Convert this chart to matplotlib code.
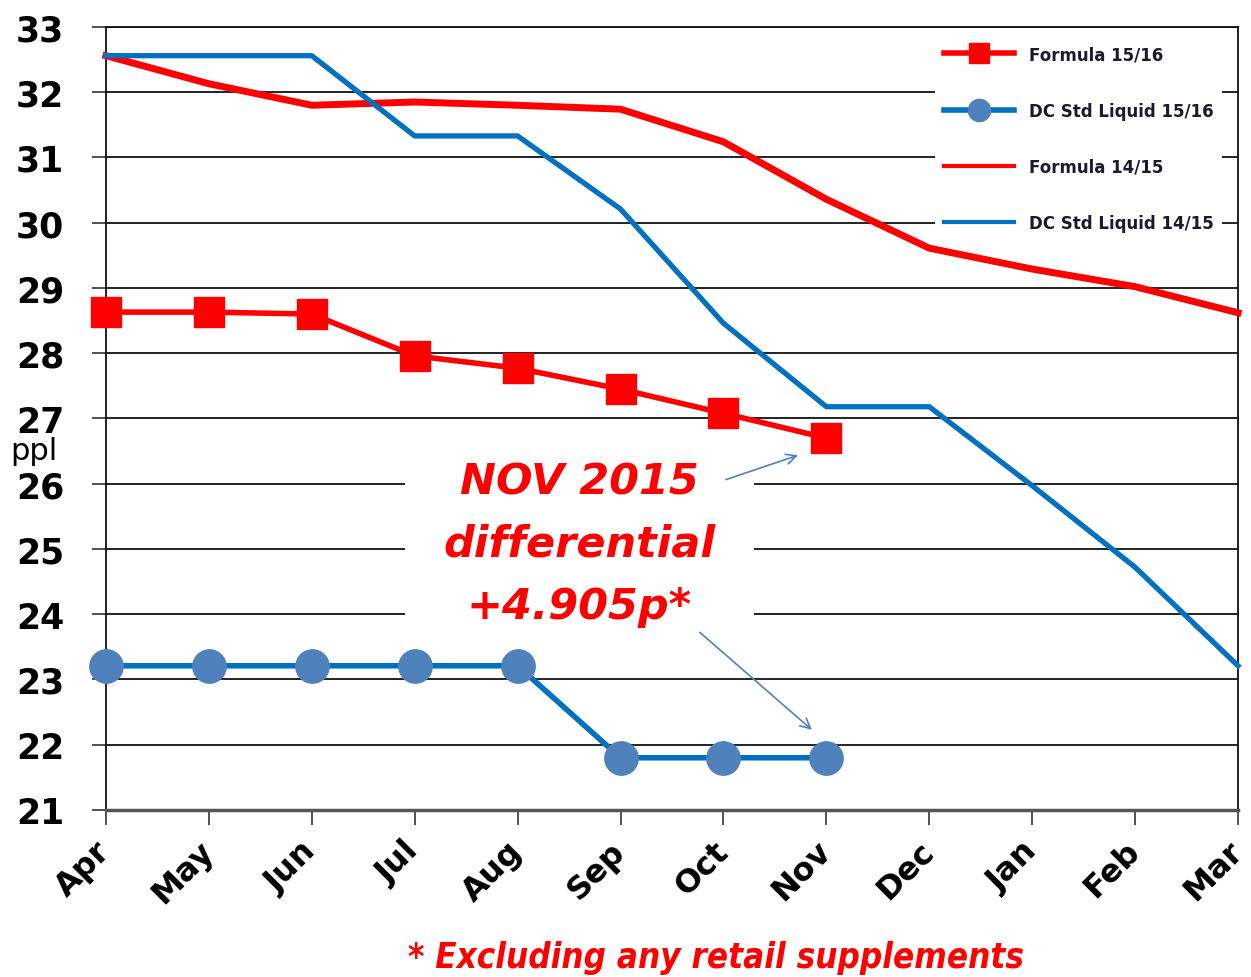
import matplotlib.pyplot as plt
from matplotlib.lines import Line2D

# Данные (ppl по месяцам)
months = ['Apr', 'May', 'Jun', 'Jul', 'Aug', 'Sep', 'Oct', 'Nov', 'Dec', 'Jan', 'Feb', 'Mar']
formula_1516 = [28.63, 28.63, 28.60, 27.96, 27.77, 27.45, 27.08, 26.70]
dc_1516 = [23.21, 23.21, 23.21, 23.21, 23.21, 21.80, 21.80, 21.80]
formula_1415 = [32.56, 32.13, 31.80, 31.85, 31.80, 31.74, 31.24, 30.36, 29.61, 29.29, 29.02, 28.62]
dc_1415 = [32.56, 32.56, 32.56, 31.33, 31.33, 30.21, 28.46, 27.18, 27.18, 25.97, 24.72, 23.21]
y_ticks = list(range(21, 34))

RED = '#FF0000'
BLUE = '#0070C0'
DOT = '#4F81BD'

fig = plt.figure(figsize=(12.51, 9.78), dpi=100)
ax = fig.add_axes([0.0847, 0.1708, 0.9049, 0.8006])

x_all = list(range(len(months)))
ax.plot(x_all, formula_1415, color=RED, lw=5, zorder=3, clip_on=False)
ax.plot(x_all, dc_1415, color=BLUE, lw=3.8, zorder=3, clip_on=False)
ax.plot(range(len(formula_1516)), formula_1516, color=RED, lw=4, marker='s', ms=22,
        mec=RED, mfc=RED, zorder=4, clip_on=False)
ax.plot(range(len(dc_1516)), dc_1516, color=BLUE, lw=4, marker='o', ms=24,
        mec=DOT, mfc=DOT, zorder=4, clip_on=False)

ax.set_xlim(0, 11)
ax.set_ylim(21, 33)
ax.set_yticks(y_ticks)
ax.set_yticklabels([str(v) for v in y_ticks], fontsize=25, fontweight='bold')
ax.set_xticks(x_all)
ax.set_xticklabels(months, fontsize=23, fontweight='bold', rotation=45,
                   ha='right', va='center', rotation_mode='anchor')
ax.tick_params(axis='x', length=11, width=1.2, pad=15, color='#333333')
ax.tick_params(axis='y', length=10, width=1.2, pad=20, color='#333333')
ax.grid(axis='y', color='#111111', lw=1.3)
for s in ax.spines.values():
    s.set_color('#111111')
    s.set_linewidth(1.3)
ax.spines['bottom'].set_color('#555555')
ax.spines['bottom'].set_linewidth(2.5)

fig.text(0.008, 0.538, 'ppl', fontsize=22, ha='left', va='center')

# Аннотация: белая подложка закрывает только сетку, не линии
ax.text(4.6, 25.08, 'NOV 2015\ndifferential\n+4.905p*', color=RED, fontsize=31,
        fontweight='bold', fontstyle='italic', ha='center', va='center',
        linespacing=1.6, zorder=2,
        bbox=dict(facecolor='white', edgecolor='none', pad=28))
ax.annotate('', xy=(6.75, 26.45), xytext=(6.0, 26.05),
            arrowprops=dict(arrowstyle='->', color=DOT, lw=1.2, mutation_scale=18), zorder=6)
ax.annotate('', xy=(6.88, 22.2), xytext=(5.75, 23.75),
            arrowprops=dict(arrowstyle='->', color=DOT, lw=1.2, mutation_scale=18), zorder=6)

fig.text(0.572, 0.02, '* Excluding any retail supplements', color=RED, fontsize=25,
         fontweight='bold', fontstyle='italic', ha='center', va='center',
         fontstretch='condensed')

handles = [
    Line2D([], [], color=RED, lw=4, marker='s', ms=15, mfc=RED, mec=RED),
    Line2D([], [], color=BLUE, lw=4, marker='o', ms=16, mfc=DOT, mec=DOT),
    Line2D([], [], color=RED, lw=3),
    Line2D([], [], color=BLUE, lw=3),
]
labels = ['Formula 15/16', 'DC Std Liquid 15/16', 'Formula 14/15', 'DC Std Liquid 14/15']
leg = ax.legend(handles, labels, loc='upper right', bbox_to_anchor=(0.993, 0.998),
                frameon=True, framealpha=1, edgecolor='none', fancybox=False,
                prop={'size': 12, 'weight': 'bold'}, labelspacing=2.3,
                handlelength=4.2, handletextpad=0.9, borderpad=0.5)
leg.set_zorder(7)
for t in leg.get_texts():
    t.set_color('#1a1a2a')

fig.savefig('out.png', dpi=100)
